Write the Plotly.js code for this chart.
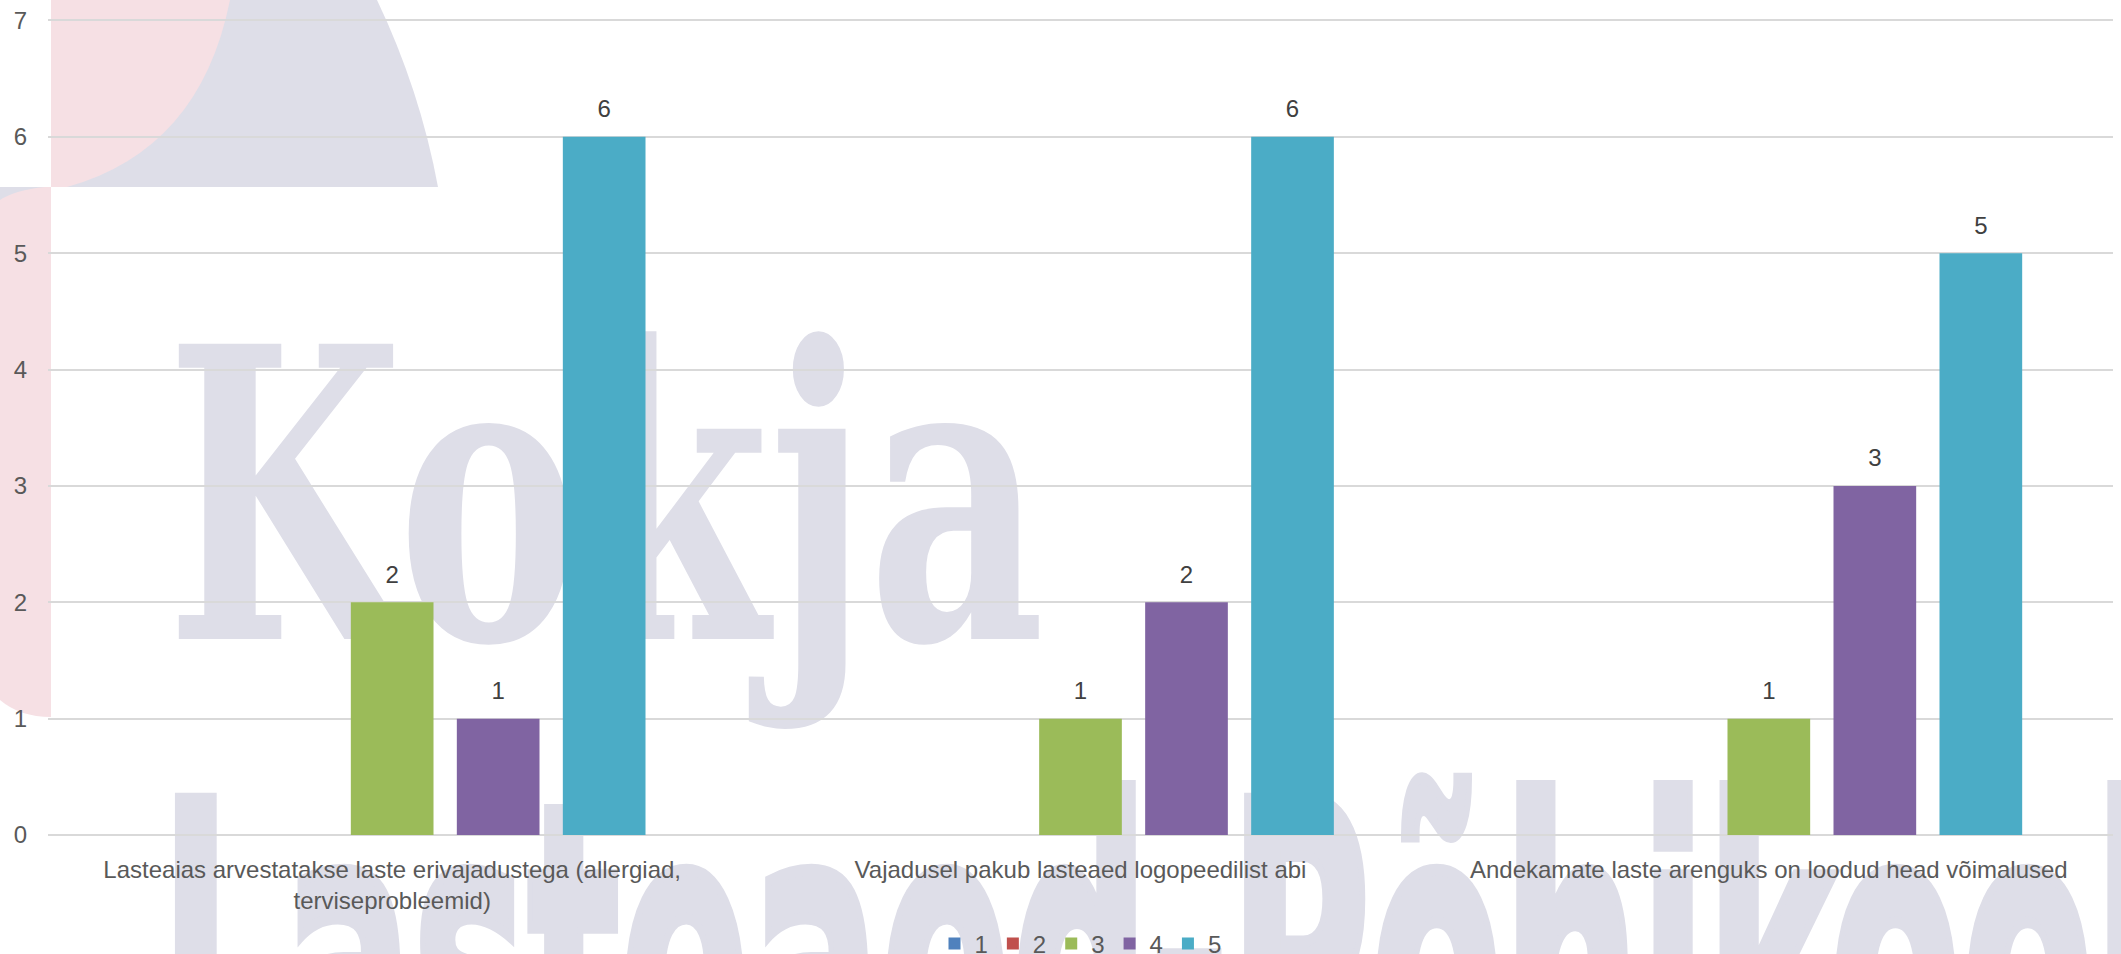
<!DOCTYPE html>
<html>
<head>
<meta charset="utf-8">
<script src="https://cdn.plot.ly/plotly-3.0.1.min.js"></script>
<style>
  html, body { margin: 0; padding: 0; background: #ffffff; overflow: hidden; }
  #wrap { position: relative; width: 2121px; height: 954px; overflow: hidden; background: #ffffff; }
  #wm { position: absolute; left: 0; top: 0; }
  #chart { position: absolute; left: 0; top: 0; width: 2121px; height: 990px; }
</style>
</head>
<body>
<div id="wrap">
  <svg id="wm" width="2121" height="954" xmlns="http://www.w3.org/2000/svg">
    <!-- background logo watermark -->
    <path d="M51,0 L377,0 Q420,90 438,187 L51,187 Z" fill="#DEDEE8"/>
    <path d="M51,0 L230,0 Q200,150 67,187 L51,187 Z" fill="#F6E0E4"/>
    <path d="M0,187 L51,187 L51,717 Q20,717 0,700 Z" fill="#F6E0E4"/>
    <path d="M0,187 L45,187 Q15,190 0,200 Z" fill="#DEDEE8"/>
    <text x="166" y="639" font-family="DejaVu Serif" font-weight="bold" font-size="405"
          textLength="879" lengthAdjust="spacingAndGlyphs" fill="#DEDEE8">Kokja</text>
    <text x="160" y="1105" font-family="DejaVu Sans" font-weight="bold" font-size="420"
          textLength="2000" lengthAdjust="spacingAndGlyphs" fill="#DEDEE8"
          stroke="#DEDEE8" stroke-width="12" stroke-linejoin="miter">Lasteaed-Põhikool</text>
  </svg>
  <div id="chart"></div>
</div>
<script>
const categories = [
  "Lasteaias arvestatakse laste erivajadustega (allergiad,<br>terviseprobleemid)",
  "Vajadusel pakub lasteaed logopeedilist abi",
  "Andekamate laste arenguks on loodud head võimalused"
];
const seriesNames = ["1", "2", "3", "4", "5"];
const series1 = [0, 0, 0];
const series2 = [0, 0, 0];
const series3 = [2, 1, 1];
const series4 = [1, 2, 3];
const series5 = [6, 6, 5];
const seriesColors = ["#4F81BD", "#C0504D", "#9BBB59", "#8064A2", "#4BACC6"];
const yTicks = [0, 1, 2, 3, 4, 5, 6, 7];

const allSeries = [series1, series2, series3, series4, series5];
const FONT = "Liberation Sans, Arial, sans-serif";

const barTraces = allSeries.map((vals, i) => ({
  type: "bar",
  name: seriesNames[i],
  x: categories,
  y: vals,
  marker: { color: seriesColors[i] },
  hoverinfo: "none"
}));

// data labels, placed above the bars of the same group slot
const labelTraces = allSeries.map((vals, i) => ({
  type: "scatter",
  mode: "markers+text",
  name: seriesNames[i] + " label",
  showlegend: false,
  x: categories,
  y: vals,
  text: vals.map(v => (v > 0 ? String(v) : "")),
  textposition: "top center",
  textfont: { family: FONT, size: 24, color: "#404040" },
  marker: { size: 20, color: "rgba(0,0,0,0)" },
  cliponaxis: false,
  hoverinfo: "none"
}));

const layout = {
  width: 2121,
  height: 990,
  paper_bgcolor: "rgba(0,0,0,0)",
  plot_bgcolor: "rgba(0,0,0,0)",
  margin: { l: 48, r: 8, t: 19, b: 155, pad: 0 },
  barmode: "group",
  bargap: 0.23,
  bargroupgap: 0.22,
  scattermode: "group",
  scattergap: 0.23,
  font: { family: FONT, size: 24, color: "#595959" },
  showlegend: true,
  legend: {
    orientation: "h",
    x: 0.5, xanchor: "center",
    y: -0.1335, yanchor: "middle",
    font: { family: FONT, size: 24, color: "#595959" },
    itemwidth: 30,
    traceorder: "normal",
    bgcolor: "rgba(0,0,0,0)"
  },
  xaxis: {
    type: "category",
    showgrid: false,
    showline: false,
    zeroline: false,
    ticks: "",
    tickfont: { family: FONT, size: 24, color: "#595959" },
    ticklabelstandoff: 18
  },
  yaxis: {
    range: [0, 7.012],
    tickvals: yTicks,
    ticktext: yTicks.map(String),
    showgrid: true,
    gridcolor: "#D9D9D9",
    gridwidth: 2,
    zeroline: true,
    zerolinecolor: "#D9D9D9",
    zerolinewidth: 2,
    showline: false,
    ticks: "",
    tickfont: { family: FONT, size: 24, color: "#595959" },
    ticklabelstandoff: 20
  }
};

Plotly.newPlot("chart", barTraces.concat(labelTraces), layout, { displayModeBar: false, staticPlot: true });
</script>
</body>
</html>
